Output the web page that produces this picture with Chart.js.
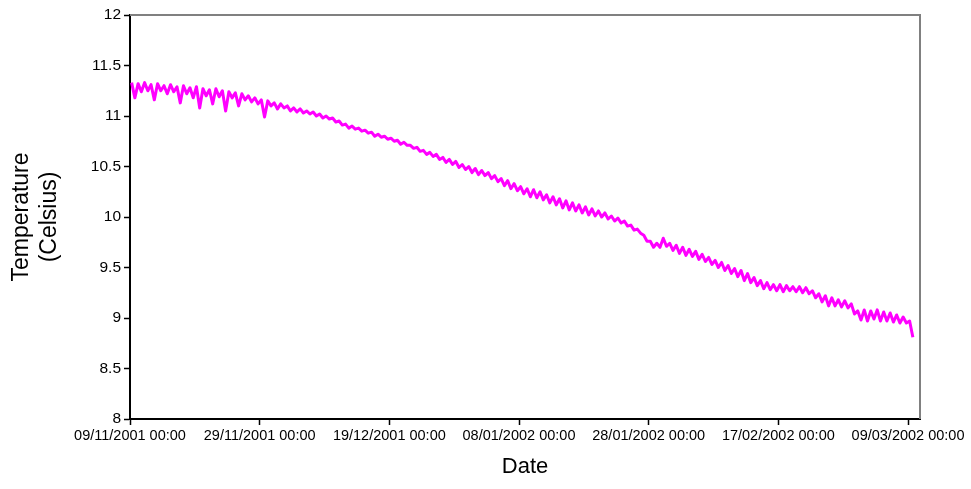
<!DOCTYPE html>
<html>
<head>
<meta charset="utf-8">
<title>Temperature</title>
<script src="https://cdn.jsdelivr.net/npm/chart.js@4/dist/chart.umd.min.js"></script>
<style>
  body { margin: 0; background: #fff; }
  #wrap { width: 971px; height: 489px; }
</style>
</head>
<body>
<div id="wrap"><canvas id="myChart" width="971" height="489"></canvas></div>
<script>
// days since 09/11/2001 00:00, one entry per day (high / low of the day)
const dailyHigh = [
  11.33, 11.32, 11.33, 11.31, 11.32, 11.30, 11.31, 11.29, 11.30, 11.28,
  11.29, 11.27, 11.26, 11.27, 11.25, 11.24, 11.23, 11.22, 11.20, 11.18,
  11.16, 11.15, 11.13, 11.12, 11.10, 11.08, 11.07, 11.05, 11.04, 11.02,
  11.00, 10.98, 10.95, 10.92, 10.90, 10.88, 10.86, 10.84, 10.82, 10.80,
  10.78, 10.76, 10.74, 10.71, 10.69, 10.66, 10.64, 10.62, 10.59, 10.57,
  10.55, 10.52, 10.50, 10.48, 10.46, 10.44, 10.41, 10.38, 10.36, 10.33,
  10.30, 10.28, 10.27, 10.25, 10.22, 10.20, 10.18, 10.16, 10.14, 10.12,
  10.10, 10.08, 10.06, 10.04, 10.01, 9.99, 9.96, 9.92, 9.88, 9.82,
  9.76, 9.74, 9.79, 9.74, 9.72, 9.70, 9.68, 9.66, 9.63, 9.60,
  9.57, 9.55, 9.52, 9.49, 9.47, 9.44, 9.40, 9.37, 9.35, 9.33,
  9.33, 9.32, 9.31, 9.31, 9.30, 9.27, 9.24, 9.22, 9.20, 9.18,
  9.17, 9.14, 9.07, 9.08, 9.07, 9.08, 9.06, 9.05, 9.03, 9.01,
  8.97
];
const dailyLow = [
  11.18, 11.24, 11.25, 11.16, 11.25, 11.22, 11.24, 11.13, 11.22, 11.18,
  11.08, 11.20, 11.12, 11.19, 11.05, 11.18, 11.10, 11.16, 11.14, 11.12,
  10.99, 11.10, 11.07, 11.08, 11.05, 11.04, 11.03, 11.02, 11.00, 10.98,
  10.97, 10.94, 10.91, 10.88, 10.87, 10.85, 10.83, 10.80, 10.79, 10.77,
  10.75, 10.72, 10.71, 10.68, 10.65, 10.62, 10.60, 10.57, 10.54, 10.52,
  10.49, 10.47, 10.44, 10.42, 10.41, 10.38, 10.35, 10.31, 10.28, 10.26,
  10.23, 10.20, 10.19, 10.17, 10.14, 10.12, 10.09, 10.07, 10.06, 10.04,
  10.02, 10.01, 10.00, 9.98, 9.96, 9.94, 9.91, 9.87, 9.84, 9.76,
  9.70, 9.70, 9.71, 9.67, 9.64, 9.62, 9.61, 9.58, 9.56, 9.53,
  9.50, 9.47, 9.44, 9.41, 9.37, 9.35, 9.32, 9.29, 9.28, 9.27,
  9.26, 9.27, 9.26, 9.25, 9.24, 9.20, 9.16, 9.12, 9.12, 9.11,
  9.10, 9.04, 8.98, 8.97, 8.99, 8.97, 8.97, 8.96, 8.95, 8.95,
  8.81
];

const xTickDays = [0, 20, 40, 60, 80, 100, 120];
const xTickLabels = [
  "09/11/2001 00:00", "29/11/2001 00:00", "19/12/2001 00:00", "08/01/2002 00:00",
  "28/01/2002 00:00", "17/02/2002 00:00", "09/03/2002 00:00"
];
const yTicks = [8, 8.5, 9, 9.5, 10, 10.5, 11, 11.5, 12];

const FONT = "'Liberation Sans', Arial, sans-serif";

const points = [];
dailyHigh.forEach((h, d) => {
  points.push({ x: d + 0.25, y: h });
  points.push({ x: d + 0.75, y: dailyLow[d] });
});

// grey frame on top and right like the excel plot area
const framePlugin = {
  id: "frame",
  beforeDatasetsDraw(chart) {
    const { ctx, chartArea } = chart;
    ctx.save();
    ctx.strokeStyle = "#808080";
    ctx.lineWidth = 2;
    ctx.beginPath();
    ctx.moveTo(chartArea.left, chartArea.top);
    ctx.lineTo(chartArea.right, chartArea.top);
    ctx.lineTo(chartArea.right, chartArea.bottom);
    ctx.stroke();
    ctx.restore();
  }
};

const ctx = document.getElementById("myChart").getContext("2d");
const chart = new Chart(ctx, {
  type: "line",
  data: {
    datasets: [{
      label: "Temperature",
      data: points,
      borderColor: "#FF00FF",
      borderWidth: 3,
      borderJoinStyle: "round",
      pointRadius: 0,
      tension: 0,
      fill: false
    }]
  },
  options: {
    responsive: false,
    animation: false,
    layout: { padding: { left: 0, right: 51, top: 15, bottom: 0 } },
    plugins: {
      legend: { display: false },
      tooltip: { enabled: false }
    },
    scales: {
      x: {
        type: "linear",
        min: 0,
        max: 121.85,
        afterBuildTicks: (scale) => {
          scale.ticks = xTickDays.map(v => ({ value: v }));
        },
        afterFit: (scale) => {
          scale.height = 70;
          scale.paddingLeft = 0;
          scale.paddingRight = 0;
        },
        ticks: {
          autoSkip: false,
          maxRotation: 0,
          padding: 2,
          color: "#000",
          font: { family: FONT, size: 14.5 },
          callback: (v, i) => xTickLabels[i]
        },
        grid: { drawOnChartArea: false, drawTicks: true, tickLength: 6, tickColor: "#000", tickWidth: 1.5 },
        border: { color: "#000", width: 2 },
        title: {
          display: true,
          text: "Date",
          color: "#000",
          font: { family: FONT, size: 22, lineHeight: 1.2 },
          padding: { top: 0, bottom: 9 }
        }
      },
      y: {
        min: 8,
        max: 12,
        afterBuildTicks: (scale) => {
          scale.ticks = yTicks.map(v => ({ value: v }));
        },
        afterFit: (scale) => {
          scale.width = 130;
          scale.paddingTop = 0;
          scale.paddingBottom = 0;
        },
        ticks: {
          padding: 3,
          color: "#000",
          font: { family: FONT, size: 15.5 },
          callback: (v) => String(v)
        },
        grid: { drawOnChartArea: false, drawTicks: true, tickLength: 6, tickColor: "#000", tickWidth: 1.5 },
        border: { color: "#000", width: 2 },
        title: {
          display: true,
          text: ["Temperature", "(Celsius)"],
          color: "#000",
          font: { family: FONT, size: 23, lineHeight: 1.22 },
          padding: { top: 8, bottom: 0 }
        }
      }
    }
  },
  plugins: [framePlugin]
});
</script>
</body>
</html>
